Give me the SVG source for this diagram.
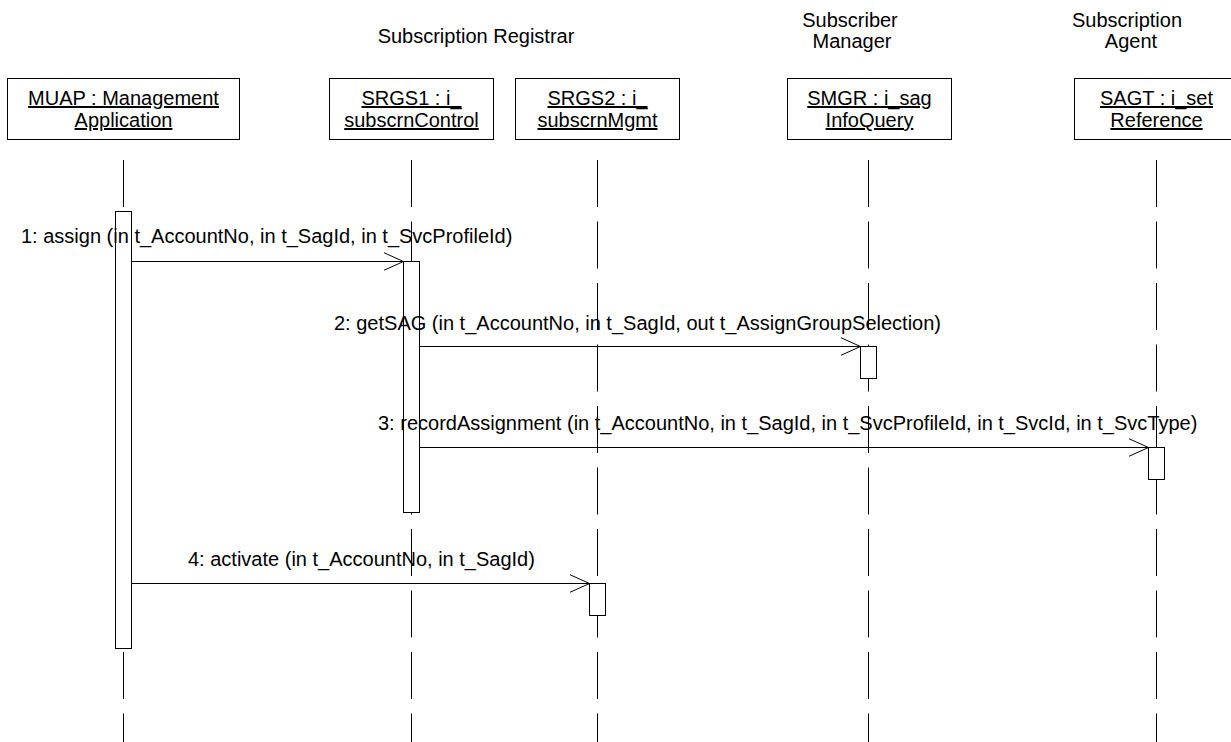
<svg xmlns="http://www.w3.org/2000/svg" width="1231" height="742" viewBox="0 0 1231 742">
  <style>
    text { font-family: "Liberation Sans", Arial, sans-serif; font-size: 20px; fill: #000; }
    .obj { fill: #fff; stroke: #000; stroke-width: 1; }
    .name { text-anchor: middle; text-decoration: underline; }
    .group { text-anchor: middle; }
    .life { stroke: #000; stroke-width: 1; stroke-dasharray: 47 14.5; fill: none; }
    .act { fill: #fff; stroke: #000; stroke-width: 1; }
    .msg { stroke: #000; stroke-width: 1; fill: none; marker-end: url(#open); }
  </style>
  <defs>
    <marker id="open" markerUnits="userSpaceOnUse" markerWidth="24" markerHeight="22" refX="20" refY="10" orient="auto">
      <path d="M0,1 L20,10 L0,19" fill="none" stroke="#000" stroke-width="1"/>
    </marker>
  </defs>

  <rect width="1231" height="742" fill="#fff"/>

  <!-- grouping captions above the objects -->
  <g id="captions">
    <text class="group" x="476" y="43">Subscription Registrar</text>
    <text class="group" x="850" y="27">Subscriber</text>
    <text class="group" x="852" y="48">Manager</text>
    <text class="group" x="1127" y="27">Subscription</text>
    <text class="group" x="1131" y="48">Agent</text>
  </g>

  <!-- lifelines -->
  <g id="lifelines">
    <line class="life" x1="123.5" y1="160" x2="123.5" y2="742"/>
    <line class="life" x1="411.5" y1="160" x2="411.5" y2="742"/>
    <line class="life" x1="597.5" y1="160" x2="597.5" y2="742"/>
    <line class="life" x1="868.5" y1="160" x2="868.5" y2="742"/>
    <line class="life" x1="1156.5" y1="160" x2="1156.5" y2="742"/>
  </g>

  <g id="MUAP">
    <rect class="obj" x="7.5" y="78.5" width="232" height="61"/>
    <text class="name" x="123.5" y="105">MUAP : Management</text>
    <text class="name" x="123.5" y="127">Application</text>
    <rect class="act" x="115.5" y="211.5" width="16" height="437"/>
  </g>

  <g id="SRGS1">
    <rect class="obj" x="329.5" y="78.5" width="164" height="61"/>
    <text class="name" x="411.5" y="105">SRGS1 : i_</text>
    <text class="name" x="411.5" y="127">subscrnControl</text>
    <rect class="act" x="403.5" y="261.5" width="16" height="251"/>
  </g>

  <g id="SRGS2">
    <rect class="obj" x="515.5" y="78.5" width="164" height="61"/>
    <text class="name" x="597.5" y="105">SRGS2 : i_</text>
    <text class="name" x="597.5" y="127">subscrnMgmt</text>
    <rect class="act" x="589.5" y="583.5" width="16" height="32"/>
  </g>

  <g id="SMGR">
    <rect class="obj" x="787.5" y="78.5" width="164" height="61"/>
    <text class="name" x="869.5" y="105">SMGR : i_sag</text>
    <text class="name" x="869.5" y="127">InfoQuery</text>
    <rect class="act" x="860.5" y="346.5" width="16" height="32"/>
  </g>

  <g id="SAGT">
    <rect class="obj" x="1074.5" y="78.5" width="164" height="61"/>
    <text class="name" x="1156.5" y="105">SAGT : i_set</text>
    <text class="name" x="1156.5" y="127">Reference</text>
    <rect class="act" x="1148.5" y="447.5" width="16" height="32"/>
  </g>

  <!-- messages -->
  <g id="connectors">
    <line class="msg" x1="131.5" y1="261.5" x2="403.5" y2="261.5"/>
    <text x="21" y="243">1: assign (in t_AccountNo, in t_SagId, in t_SvcProfileId)</text>

    <line class="msg" x1="419.5" y1="346.5" x2="860.5" y2="346.5"/>
    <text x="334" y="330">2: getSAG (in t_AccountNo, in t_SagId, out t_AssignGroupSelection)</text>

    <line class="msg" x1="419.5" y1="447.5" x2="1148.5" y2="447.5"/>
    <text x="378" y="430">3: recordAssignment (in t_AccountNo, in t_SagId, in t_SvcProfileId, in t_SvcId, in t_SvcType)</text>

    <line class="msg" x1="131.5" y1="583.5" x2="589.5" y2="583.5"/>
    <text x="188" y="566">4: activate (in t_AccountNo, in t_SagId)</text>
  </g>
</svg>
